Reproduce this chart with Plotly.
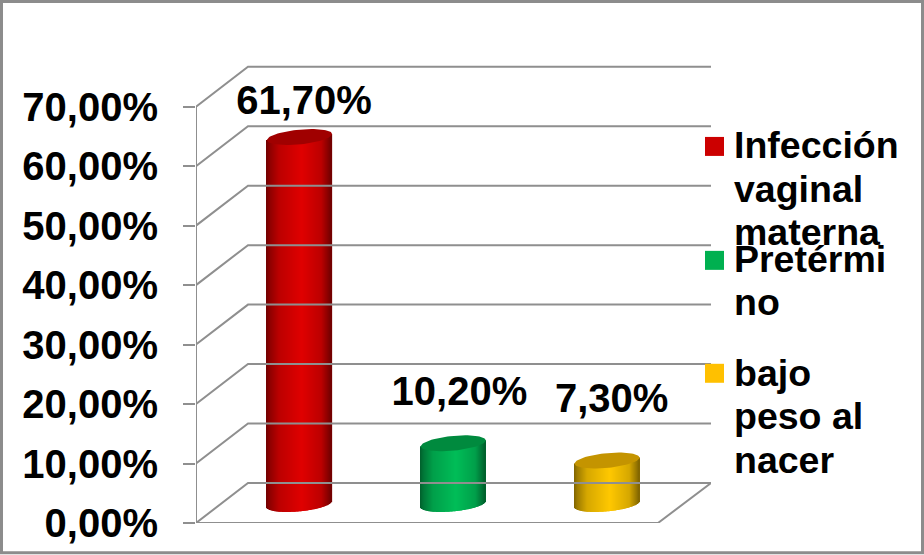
import numpy as np
import plotly.graph_objects as go

# ---- data ----
categories = ["Infección vaginal materna", "Pretérmino", "bajo peso al nacer"]
values = [61.7, 10.2, 7.3]
value_labels = ["61,70%", "10,20%", "7,30%"]
tick_values = [0, 10, 20, 30, 40, 50, 60, 70]
tick_labels = ["0,00%", "10,00%", "20,00%", "30,00%", "40,00%", "50,00%", "60,00%", "70,00%"]
legend_lines = [["Infección", "vaginal", "materna"], ["Pretérmi", "no"], ["bajo", "peso al", "nacer"]]

# ---- style ----
W, H = 924, 555
UNIT_Y = 5.951
L, R, T, B = 196, 711, 20, 523.3
FONT = "Liberation Sans"
GRID = "#8f8f8f"
bright = [(224, 0, 0), (0, 190, 88), (255, 200, 0)]
cap = ["#a00000", "#008a3e", "#c49400"]
swatch = ["#cc0000", "#00b050", "#ffc000"]
label_lift = [33.5 / UNIT_Y, 48 / UNIT_Y, 58.5 / UNIT_Y]
label_dx = [0.03, 0.04, 0.03]
legend_base_px = [[158, 201.7, 245], [272, 315], [386, 429, 473]]
swatch_top_px = [137, 251, 364]

unit_x = 153.75                      # px per category
x_range = [(L - 299.5) / unit_x, (R - 299.5) / unit_x]
depth_x, depth_y = 52 / unit_x, 40 / UNIT_Y
front_right = (658 - 299.5) / unit_x
half_w = 32.5 / unit_x
floor_off = 3.2                      # cylinder centre in front of wall
tilt, minor = 3 / UNIT_Y, 7.4 / UNIT_Y   # ellipse shear / minor radius in y units
shade_u = [0, .05, .2, .55, .85, .95, 1]
shade_f = [.5, .62, .84, 1, .84, .62, .5]


def px(x):
    return (x - L) / (R - L)


def py(y):
    return (B - y) / (B - T)


fig = go.Figure()

# front axis line and perspective gridlines on the walls
gx, gy = [x_range[0], x_range[0], None], [0, tick_values[-1], None]
for v in tick_values:
    gx += [x_range[0], x_range[0] + depth_x, x_range[1], None]
    gy += [v, v + depth_y, v + depth_y, None]
gx += [x_range[0], front_right, x_range[1]]
gy += [0, 0, depth_y]
fig.add_trace(go.Scatter(x=gx, y=gy, mode="lines", line=dict(color=GRID, width=2),
                         hoverinfo="skip", showlegend=False, cliponaxis=False))

# cylinders: each one is a bar made of thin vertical strips plus an elliptical cap
N = 65
for i, (name, val) in enumerate(zip(categories, values)):
    u = (np.arange(N) + .5) / N
    c2 = 2 * u - 1
    s2 = np.sqrt(1 - c2 ** 2)
    f = np.interp(u, shade_u, shade_f)
    colors = [f"rgb({int(bright[i][0]*k)},{int(bright[i][1]*k)},{int(bright[i][2]*k)})" for k in f]
    xs = i + c2 * half_w
    low = floor_off + c2 * tilt - minor * s2
    top = floor_off + val + c2 * tilt
    fig.add_trace(go.Bar(x=xs, y=top - low, base=low, width=1.25 * 2 * half_w / N, name=name,
                         marker=dict(color=colors, line=dict(width=0)), hoverinfo="skip",
                         showlegend=False, cliponaxis=False))
    t = np.linspace(0, 2 * np.pi, 80)
    fig.add_trace(go.Scatter(x=i + half_w * np.cos(t),
                             y=floor_off + val + tilt * np.cos(t) + minor * np.sin(t),
                             mode="lines", fill="toself", fillcolor=cap[i],
                             line=dict(width=0, color=cap[i]), hoverinfo="skip",
                             showlegend=False, cliponaxis=False))

# value labels
fig.add_trace(go.Scatter(x=[i + d for i, d in enumerate(label_dx)],
                         y=[floor_off + v + l for v, l in zip(values, label_lift)],
                         mode="text", text=value_labels, textposition="middle center",
                         textfont=dict(family=FONT, size=40, color="black", weight=700),
                         hoverinfo="skip", showlegend=False, cliponaxis=False))

shapes = [dict(type="rect", xref="paper", yref="paper", x0=px(1.5), x1=px(W - 1.5), y0=py(H - 2), y1=py(1.5),
               line=dict(color="#8c8c8c", width=3), fillcolor="rgba(0,0,0,0)", layer="below")]
annotations = []
for i in range(3):
    shapes.append(dict(type="rect", xref="paper", yref="paper", x0=px(705), x1=px(724),
                       y0=py(swatch_top_px[i] + 19), y1=py(swatch_top_px[i]),
                       fillcolor=swatch[i], line=dict(width=0)))
    for line, base in zip(legend_lines[i], legend_base_px[i]):
        annotations.append(dict(text=line, xref="paper", yref="paper", x=px(733), y=py(base - 13),
                                xanchor="left", yanchor="middle", showarrow=False, borderpad=0,
                                font=dict(family=FONT, size=37.5, color="black", weight=700)))

fig.update_layout(
    width=W, height=H, margin=dict(l=L, r=W - R, t=T, b=H - B, autoexpand=False),
    paper_bgcolor="white", plot_bgcolor="white", barmode="overlay", showlegend=False,
    shapes=shapes, annotations=annotations,
    xaxis=dict(range=x_range, visible=False, fixedrange=True),
    yaxis=dict(range=[0, (B - T) / UNIT_Y], tickmode="array", tickvals=tick_values, ticktext=tick_labels,
               showgrid=False, zeroline=False, showline=False,
               ticks="outside", ticklen=12, tickwidth=2, tickcolor=GRID, ticklabelstandoff=17,
               tickfont=dict(family=FONT, size=40, color="black", weight=700), fixedrange=True),
)
fig.write_html("out.html", config={"displayModeBar": False},
               post_script="document.body.style.margin='0';document.body.style.overflow='hidden';")
